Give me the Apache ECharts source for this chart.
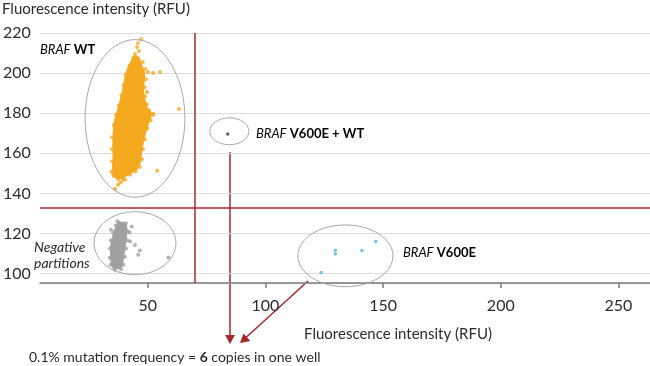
<!DOCTYPE html>
<html><head><meta charset="utf-8">
<script src="https://cdn.jsdelivr.net/npm/echarts@6/dist/echarts.min.js"></script>
<style>html,body{margin:0;padding:0;background:#fff}#c{width:650px;height:366px}</style>
</head><body><div id="c"></div>
<script>
// ---- data ----
const xTickValues = [50, 100, 150, 200, 250];
const gateX = 70;
const gateY = 133;
// dense BRAF WT cluster outline (RFU, RFU)
const orangeCore = [[44.5,209],[42.5,205],[41,201],[40,196],[39.3,191],[38.2,186],[37,181],[35.8,176],[35.3,170],[35.2,164],[35.3,158],[35.0,153],[35.5,149],[37,147.5],[39,147.5],
  [41.5,149],[43.5,150.5],[45.5,152],[46.8,155],[47.4,160],[48.2,166],[49.5,172],[51,177],[51.8,180],[50,182],[49,186],[48.2,191],[48.5,196],[48.8,200],[47.5,204],[46.3,208]];
const orangePoints = [[43.8,207.5],[42.2,203.5],[40.6,199],[39.8,194],[38.9,189],[37.8,184],[36.6,179],[35.6,174],[34.9,168],[34.8,162],[34.9,156],[34.6,151],[35.8,148.5],[37.4,147],[39.5,146.8],
  [42.5,149.3],[44.8,150.9],[46.7,153.2],[47.6,157],[48.0,162],[48.8,167],[49.9,172.5],[51.3,176.5],[52.3,179.8],[50.6,181.5],[49.6,184.5],[48.9,188.5],[48.7,193],[49.2,197],[49.0,202],[47.9,205.5],
  [47.2,217.0],[45.9,215.0],[45.5,213.0],[46.3,211.0],[44.6,209.5],[50.1,200.5],[52.3,200.0],[55.2,200.5],[49.7,190.6],[63.3,182.1],[52.3,179.1],[54.0,151.3],[39.1,148.3],[40.4,146.8],[36.1,142.3],[35.3,149.3],[37.4,144.3],[38.5,145.5]];
// negative partitions
const greyCore = [[37.5,125.8],[40.5,125.6],[41.3,122],[41.0,118],[40.5,114],[40.0,110],[39.5,106],[39.0,103],[37.0,102.4],[35.0,103],[34.4,106],[34.2,110],[34.3,114],[35,118],[36,122]];
const greyPoints = [[37.2,126.2],[40.8,125.0],[41.7,121],[41.3,116.5],[40.8,112.5],[40.3,108.5],[39.7,104.5],[38.6,102.2],[36.0,102.0],[34.2,104.5],[33.9,108],[34.0,112.5],[34.4,116.5],[35.3,120.5],[36.4,124],
  [34.4,121.9],[43.2,123.5],[42.3,120.5],[42.5,116],[44.6,114.3],[46.7,111.6],[46.0,109.4],[58.8,108.1]];
// BRAF V600E droplets
const bluePoints = [[146.9,116.1],[129.7,111.6],[129.7,109.8],[141.0,111.6],[123.7,100.6]];
// BRAF V600E + WT droplet
const doublePoints = [[84.0,169.7]];
// gating ellipses: [centerX, centerY, radiusX, radiusY]
const ellipses = [[44.6,177.4,21.2,39.3],[44.6,115.2,17.4,15.7],[84.7,171.0,8.3,6.7],[134.0,108.9,20.2,15.4]];

const FONT = 'Lato';
const TXT = '#2b2b2b';
const RED = '#a3282c';

function polygonSeries(pts, color) {
  return {
    type: 'custom', silent: true, z: 2,
    data: [pts[0]],
    encode: {x: 0, y: 1},
    renderItem: function (params, api) {
      return {type: 'polygon', shape: {points: pts.map(p => api.coord(p))}, style: {fill: color, stroke: color, lineWidth: 1}};
    }
  };
}
function richLabel(size) {
  return {i: {fontStyle: 'italic', fontSize: size, fontFamily: FONT, color: TXT}, b: {fontWeight: 'bold', fontSize: size, fontFamily: FONT, color: TXT}};
}

const chart = echarts.init(document.getElementById('c'), null, {renderer: 'canvas'});
chart.setOption({
  animation: false,
  backgroundColor: '#fff',
  grid: {left: 40, right: 0, top: 33, bottom: 83, containLabel: false},
  xAxis: {
    type: 'value', min: 4.25, max: 263.4,
    name: 'Fluorescence intensity (RFU)', nameLocation: 'middle', nameGap: 44,
    nameTextStyle: {fontFamily: FONT, fontSize: 15, color: TXT, padding: [0, 0, 0, 106]},
    axisLine: {show: true, lineStyle: {color: '#7a7a7a', width: 1.5}},
    axisTick: {show: true, customValues: xTickValues, length: 5, lineStyle: {color: '#7a7a7a', width: 1.5}},
    axisLabel: {customValues: xTickValues, fontFamily: FONT, fontSize: 16, color: TXT, margin: 15},
    splitLine: {show: false}
  },
  yAxis: {
    type: 'value', min: 95.35, max: 220,
    axisLine: {show: false}, axisTick: {show: false},
    axisLabel: {align: 'left', margin: 37, fontFamily: FONT, fontSize: 16, color: TXT, showMinLabel: false},
    splitLine: {lineStyle: {color: '#dcdcdc', width: 1}}
  },
  series: [
    polygonSeries(orangeCore, '#f5a91e'),
    polygonSeries(greyCore, '#a0a0a0'),
    {type: 'scatter', name: 'BRAF WT', data: orangePoints, symbolSize: 4, itemStyle: {color: '#f5a91e'}, z: 3,
     markLine: {silent: true, symbol: 'none', label: {show: false}, lineStyle: {color: RED, width: 1.5, type: 'solid'},
       data: [{xAxis: gateX}, {yAxis: gateY}]}},
    {type: 'scatter', name: 'Negative', data: greyPoints, symbolSize: 4, itemStyle: {color: '#a0a0a0'}, z: 3},
    {type: 'scatter', name: 'BRAF V600E', data: bluePoints, symbolSize: 3.5, itemStyle: {color: '#4fb3e6'}, z: 3},
    {type: 'scatter', name: 'BRAF V600E + WT', data: doublePoints, symbolSize: 3.5, itemStyle: {color: '#3a3f4a'}, z: 3},
    {type: 'custom', silent: true, z: 4, data: ellipses, encode: {x: 0, y: 1},
     renderItem: function (params, api) {
       const c = api.coord([api.value(0), api.value(1)]);
       const s = api.size([api.value(2), api.value(3)]);
       return {type: 'ellipse', shape: {cx: c[0], cy: c[1], rx: s[0], ry: s[1]}, style: {fill: null, stroke: '#a8a8a8', lineWidth: 1}};
     }}
  ],
  graphic: [
    {type: 'text', left: 2, top: 2, style: {text: 'Fluorescence intensity (RFU)', font: '15px ' + FONT, fill: TXT}},
    {type: 'text', x: 40, y: 50, style: {text: '{i|BRAF} {b|WT}', verticalAlign: 'middle', rich: richLabel(13)}},
    {type: 'text', x: 256, y: 134, style: {text: '{i|BRAF} {b|V600E + WT}', verticalAlign: 'middle', rich: richLabel(13)}},
    {type: 'text', x: 403, y: 253, style: {text: '{i|BRAF} {b|V600E}', verticalAlign: 'middle', rich: richLabel(13)}},
    {type: 'text', x: 34, y: 255, style: {text: 'Negative\npartitions', verticalAlign: 'middle', font: 'italic 14px ' + FONT, fill: TXT, lineHeight: 16}},
    {type: 'line', shape: {x1: 230, y1: 152, x2: 230, y2: 336}, style: {stroke: RED, lineWidth: 1.5}},
    {type: 'polygon', shape: {points: [[230, 344], [225, 335], [235, 335]]}, style: {fill: RED}},
    {type: 'line', shape: {x1: 308, y1: 281, x2: 246, y2: 337.5}, style: {stroke: RED, lineWidth: 1.5}},
    {type: 'polygon', shape: {points: [[240, 343], [243.6, 333.6], [250.3, 341]]}, style: {fill: RED}},
    {type: 'text', x: 29, y: 357, style: {text: '0.1% mutation frequency = {b|6} copies in one well', verticalAlign: 'middle', font: '14px ' + FONT, fill: TXT, rich: {b: {fontWeight: 'bold', fontSize: 14, fontFamily: FONT, color: TXT}}}}
  ]
});
</script></body></html>
